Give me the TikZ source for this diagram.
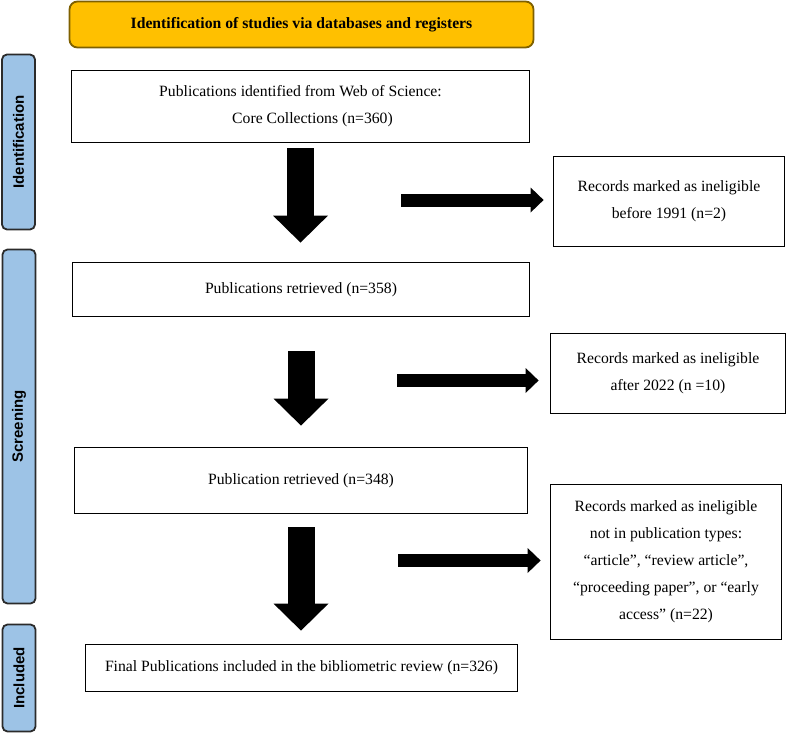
\documentclass[tikz,border=0pt]{standalone}
\usepackage{fontspec}
\setmainfont{Liberation Serif}
\setsansfont{Liberation Sans}
\usetikzlibrary{arrows.meta}
\definecolor{phasefill}{HTML}{9DC3E6}
\definecolor{phaseline}{HTML}{2B2B2B}
\definecolor{bannerfill}{HTML}{FFC000}
\definecolor{bannerline}{HTML}{7F6000}
\begin{document}
\begin{tikzpicture}[x=1pt, y=-1pt, font=\fontsize{15.7}{27}\selectfont,
      banner/.style={draw=bannerline, fill=bannerfill, line width=1.8pt, rounded corners=8pt,
        font=\bfseries\fontsize{15.7}{27}\selectfont, minimum width=464pt, minimum height=46pt},
      phase/.style={draw=phaseline, fill=phasefill, line width=1.8pt, rounded corners=5pt, rotate=90,
        font=\sffamily\bfseries\fontsize{15}{18}\selectfont, minimum height=33pt, inner sep=0pt},
      rec/.style={draw, line width=1.8pt, align=center, inner sep=0pt},
      dn/.style={line width=27pt, -{Triangle[width=55pt, length=27pt, line width=0pt]}},
      rt/.style={line width=13pt, -{Triangle[width=25pt, length=13pt, line width=0pt]}}]
    \useasboundingbox (0,0) rectangle (787,733);
    \node[banner] (title) at (301.5,24.5) {Identification of studies via databases and registers};
    \node[phase, minimum width=175pt] (idf) at (18.5,142) {Identification};
    \node[phase, minimum width=354pt] (scr) at (19,426.5) {Screening};
    \node[phase, minimum width=107pt] (inc) at (19,678) {Included};
    \node[rec, minimum width=458pt, minimum height=72pt] (wos) at (300.5,106.5) {Publications identified from Web of Science:\\\hspace*{24pt}Core Collections (n=360)};
    \node[rec, minimum width=457pt, minimum height=54pt] (ret1) at (301,289.5) {Publications retrieved (n=358)};
    \node[rec, minimum width=453pt, minimum height=66pt] (ret2) at (301,480.5) {Publication retrieved (n=348)};
    \node[rec, minimum width=432pt, minimum height=47pt] (final) at (301.5,668) {Final Publications included in the bibliometric review (n=326)};
    \node[rec, minimum width=231pt, minimum height=90pt] (ex1) at (669,201.5) {Records marked as ineligible\\before 1991 (n=2)};
    \node[rec, minimum width=235pt, minimum height=80pt] (ex2) at (668,373.5) {Records marked as ineligible\\after 2022 (n =10)};
    \node[rec, minimum width=231pt, minimum height=155pt] (ex3) at (666,562) {Records marked as ineligible\\not in publication types:\\“article”, “review article”,\\“proceeding paper”, or “early\\access” (n=22)};
    % flow down
    \draw[dn, shorten <=5pt, shorten >=19pt] (wos.south) -- (wos.south |- ret1.north);
    \draw[dn, shorten <=34pt, shorten >=21pt] (ret1.south) -- (ret1.south |- ret2.north);
    \draw[dn, shorten <=13pt, shorten >=13pt] (ret2.south) -- (ret2.south |- final.north);
    % exclusions
    \coordinate (x1) at (401,200);
    \coordinate (x2) at (397,380.5);
    \coordinate (x3) at (398,560.5);
    \draw[rt, shorten >=9pt] (x1) -- (x1 -| ex1.west);
    \draw[rt, shorten >=11pt] (x2) -- (x2 -| ex2.west);
    \draw[rt, shorten >=9pt] (x3) -- (x3 -| ex3.west);
\end{tikzpicture}
\end{document}
